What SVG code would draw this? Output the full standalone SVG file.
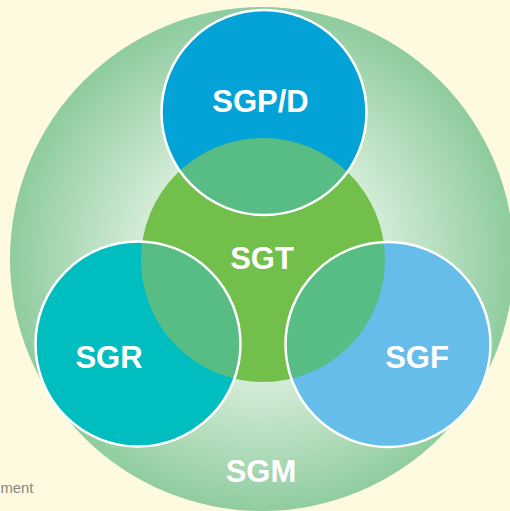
<svg xmlns="http://www.w3.org/2000/svg" width="510" height="511" viewBox="0 0 510 511">
  <defs>
    <radialGradient id="sgmGrad" gradientUnits="userSpaceOnUse" cx="262" cy="262" r="252">
      <stop offset="0" stop-color="#ffffff"/>
      <stop offset="0.48" stop-color="#d4ecd7"/>
      <stop offset="1" stop-color="#8fcc9f"/>
    </radialGradient>
    <clipPath id="clipT">
      <circle cx="263" cy="260" r="122"/>
    </clipPath>
  </defs>
  <style>
    .lbl { font-family: "Liberation Sans", Arial, sans-serif; font-weight: bold; font-size: 31px; fill: #ffffff; text-anchor: middle; }
    .ring { fill: none; stroke: #ffffff; stroke-width: 2.5; }
    .ovl { fill: #58bd84; }
  </style>
  <rect x="0" y="0" width="510" height="511" fill="#fefadf"/>

  <g id="SGM">
    <circle cx="262" cy="259" r="252" fill="url(#sgmGrad)"/>
    <text class="lbl" x="261" y="482">SGM</text>
  </g>

  <g id="SGT">
    <circle cx="263" cy="260" r="122" fill="#72bf4b"/>
  </g>

  <g id="SGP-D">
    <circle cx="264" cy="112.5" r="102.5" fill="#03a3d8"/>
  </g>

  <g id="SGR">
    <circle cx="138" cy="344" r="102.5" fill="#00bdbf"/>
  </g>

  <g id="SGF">
    <circle cx="388" cy="344.5" r="102.5" fill="#66bde9"/>
  </g>

  <g id="overlaps" clip-path="url(#clipT)">
    <circle class="ovl" cx="264" cy="112.5" r="102.5"/>
    <circle class="ovl" cx="138" cy="344" r="102.5"/>
    <circle class="ovl" cx="388" cy="344.5" r="102.5"/>
  </g>

  <g id="outlines">
    <circle class="ring" cx="264" cy="112.5" r="102.5"/>
    <circle class="ring" cx="138" cy="344" r="102.5"/>
    <circle class="ring" cx="388" cy="344.5" r="102.5"/>
  </g>

  <g id="labels">
    <text class="lbl" x="260.5" y="112">SGP/D</text>
    <text class="lbl" x="262" y="269">SGT</text>
    <text class="lbl" x="109" y="368">SGR</text>
    <text class="lbl" x="417" y="367.5">SGF</text>
  </g>

  <g id="connectors"></g>

  <text x="0.5" y="492.5" font-family="'Liberation Sans', Arial, sans-serif" font-size="14.8" fill="#858585">ment</text>
</svg>
